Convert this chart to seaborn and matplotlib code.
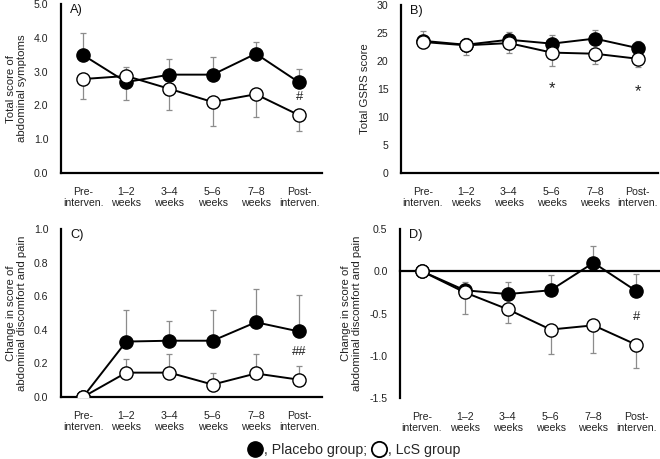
import matplotlib
matplotlib.use("Agg")
import matplotlib.pyplot as plt
from matplotlib.lines import Line2D
import seaborn as sns
import pandas as pd

sns.set_theme(style="white")
plt.rcParams['font.family'] = ['Liberation Sans', 'DejaVu Sans']

categories = ["Pre-\ninterven.", "1\u20132\nweeks", "3\u20134\nweeks", "5\u20136\nweeks", "7\u20138\nweeks", "Post-\ninterven."]

# Panel A: total score of abdominal symptoms
a_placebo = [3.49, 2.69, 2.91, 2.91, 3.53, 2.68]
a_placebo_lo = [0, 0.52, 0, 0, 0, 0]
a_placebo_hi = [0.64, 0, 0.45, 0.52, 0.36, 0.40]
a_lcs = [2.78, 2.87, 2.49, 2.10, 2.33, 1.71]
a_lcs_lo = [0.59, 0, 0.63, 0.72, 0.66, 0.48]
a_lcs_hi = [0, 0.28, 0, 0, 0, 0]

# Panel B: total GSRS score
b_placebo = [23.6, 22.9, 23.8, 23.1, 24.0, 22.3]
b_placebo_lo = [0, 0, 0, 0, 0, 0]
b_placebo_hi = [1.7, 1.2, 1.3, 1.6, 1.6, 1.3]
b_lcs = [23.4, 22.8, 23.2, 21.5, 21.3, 20.4]
b_lcs_lo = [1.1, 1.8, 1.7, 2.4, 1.9, 1.5]
b_lcs_hi = [0, 0, 0, 0, 0, 0]

# Panel C: change in score of abdominal discomfort and pain
c_placebo = [0.0, 0.33, 0.335, 0.335, 0.445, 0.39]
c_placebo_lo = [0, 0, 0, 0, 0, 0]
c_placebo_hi = [0, 0.19, 0.115, 0.185, 0.195, 0.22]
c_lcs = [0.0, 0.145, 0.145, 0.074, 0.14, 0.103]
c_lcs_lo = [0, 0, 0, 0, 0, 0]
c_lcs_hi = [0, 0.08, 0.11, 0.07, 0.118, 0.082]

# Panel D: change in score of abdominal discomfort and pain
d_placebo = [0.0, -0.225, -0.27, -0.225, 0.10, -0.235]
d_placebo_lo = [0, 0, 0, 0, 0, 0]
d_placebo_hi = [0, 0.095, 0.145, 0.175, 0.20, 0.205]
d_lcs = [0.0, -0.25, -0.45, -0.69, -0.64, -0.87]
d_lcs_lo = [0, 0.26, 0.16, 0.29, 0.33, 0.27]
d_lcs_hi = [0, 0, 0, 0, 0, 0]

panels = [
    dict(label="A)", ylabel="Total score of\nabdominal symptoms", ylim=(0, 5), yticks=[0, 1, 2, 3, 4, 5],
         fmt="{:.1f}", p=a_placebo, plo=a_placebo_lo, phi=a_placebo_hi,
         l=a_lcs, llo=a_lcs_lo, lhi=a_lcs_hi, sig=[("#", 5, 2.24)],
         rect=(61, 4, 322, 173), xlim=(-0.51, 5.53)),
    dict(label="B)", ylabel="Total GSRS score", ylim=(0, 30), yticks=[0, 5, 10, 15, 20, 25, 30],
         fmt="{:.0f}", p=b_placebo, plo=b_placebo_lo, phi=b_placebo_hi,
         l=b_lcs, llo=b_lcs_lo, lhi=b_lcs_hi, sig=[("*", 3, 15.0), ("*", 5, 14.6)],
         rect=(401, 5, 658, 173), xlim=(-0.51, 5.47)),
    dict(label="C)", ylabel="Change in score of\nabdominal discomfort and pain", ylim=(0, 1.0),
         yticks=[0, 0.2, 0.4, 0.6, 0.8, 1.0],
         fmt="{:.1f}", p=c_placebo, plo=c_placebo_lo, phi=c_placebo_hi,
         l=c_lcs, llo=c_lcs_lo, lhi=c_lcs_hi, sig=[("##", 5, 0.265)],
         rect=(61, 229, 322, 397), xlim=(-0.51, 5.53)),
    dict(label="D)", ylabel="Change in score of\nabdominal discomfort and pain", ylim=(-1.5, 0.5),
         yticks=[-1.5, -1.0, -0.5, 0.0, 0.5],
         fmt="{:.1f}", p=d_placebo, plo=d_placebo_lo, phi=d_placebo_hi,
         l=d_lcs, llo=d_lcs_lo, lhi=d_lcs_hi, sig=[("#", 5, -0.54)],
         rect=(400, 229, 660, 398), xlim=(-0.51, 5.55)),
]

W, H = 660, 459
fig = plt.figure(figsize=(W / 100, H / 100), dpi=100)

fs = 7.6
for pnl in panels:
    x0, y0, x1, y1 = pnl["rect"]
    ax = fig.add_axes([x0 / W, 1 - y1 / H, (x1 - x0) / W, (y1 - y0) / H])
    df = pd.DataFrame({"cat": categories * 2,
                       "val": pnl["p"] + pnl["l"],
                       "grp": ["Placebo"] * 6 + ["LcS"] * 6})
    for s in ["top", "right"]:
        ax.spines[s].set_visible(False)
    pad_x = 7
    if pnl["ylim"][0] < 0:
        ax.spines["bottom"].set_position(("data", 0))
        hpts = (y1 - y0) * 0.72
        frac = (0 - pnl["ylim"][0]) / (pnl["ylim"][1] - pnl["ylim"][0])
        pad_x = pad_x + hpts * frac
    # error bars
    for vals, lo, hi in [(pnl["p"], pnl["plo"], pnl["phi"]), (pnl["l"], pnl["llo"], pnl["lhi"])]:
        ax.errorbar(range(6), vals, yerr=[lo, hi], fmt="none", ecolor="#8c8c8c",
                    elinewidth=0.9, capsize=2.5, capthick=0.9, zorder=1)
    sns.lineplot(data=df[df.grp == "Placebo"], x="cat", y="val", sort=False, ax=ax,
                 color="black", linewidth=1.4, marker="o", markersize=9.5,
                 markerfacecolor="black", markeredgecolor="black", markeredgewidth=1.0, zorder=3)
    sns.lineplot(data=df[df.grp == "LcS"], x="cat", y="val", sort=False, ax=ax,
                 color="black", linewidth=1.4, marker="o", markersize=9.5,
                 markerfacecolor="white", markeredgecolor="black", markeredgewidth=1.0, zorder=4)
    ax.set_xlim(*pnl["xlim"])
    ax.set_ylim(*pnl["ylim"])
    ax.set_yticks(pnl["yticks"])
    ax.set_yticklabels([pnl["fmt"].format(v) for v in pnl["yticks"]], fontsize=fs, color="#222222")
    ax.set_xticks(range(6))
    ax.set_xticklabels(categories, fontsize=fs, color="#222222", linespacing=1.15)
    ax.set_xlabel("")
    ax.set_ylabel(pnl["ylabel"], fontsize=fs + 0.6, color="#222222", labelpad=5, linespacing=1.15)
    for s in ["left", "bottom"]:
        ax.spines[s].set_linewidth(1.6)
        ax.spines[s].set_color("black")
    ax.tick_params(axis="both", direction="out", length=3, width=1.4, color="black")
    ax.tick_params(axis="y", pad=6)
    ax.tick_params(axis="x", pad=pad_x)
    ax.grid(False)
    ax.text(0.035, 1.0, pnl["label"], transform=ax.transAxes, fontsize=fs + 1.6,
            ha="left", va="top", color="#111111")
    for txt, xi, yv in pnl["sig"]:
        ax.text(xi, yv, txt, ha="center", va="center",
                fontsize=(fs + 4.5 if txt == "*" else fs + 1.8), color="#222222")

handles = [Line2D([], [], marker="o", linestyle="none", markersize=11, markerfacecolor="black",
                  markeredgecolor="black"),
           Line2D([], [], marker="o", linestyle="none", markersize=11, markerfacecolor="white",
                  markeredgecolor="black", markeredgewidth=1.3)]
fig.legend(handles, [", Placebo group;", ", LcS group"], loc="center", bbox_to_anchor=(355 / W, 1 - 450 / H),
           ncol=2, frameon=False, handlelength=0.8, handletextpad=0.25, columnspacing=0.4,
           prop={"size": fs + 2.6})

fig.savefig("out.png", dpi=100)
